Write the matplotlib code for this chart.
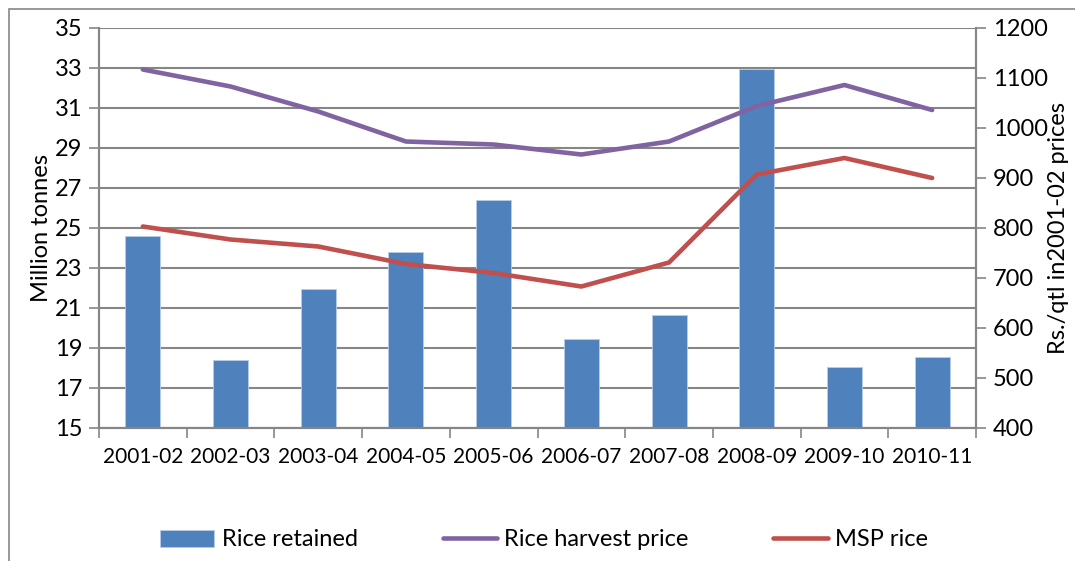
import matplotlib.pyplot as plt
import numpy as np
from matplotlib.patches import Rectangle

# data
years = ['2001-02', '2002-03', '2003-04', '2004-05', '2005-06',
         '2006-07', '2007-08', '2008-09', '2009-10', '2010-11']
rice_retained = [24.6, 18.4, 21.95, 23.8, 26.4, 19.45, 20.65, 32.95, 18.05, 18.55]
harvest_price = [1117, 1083, 1033, 973, 967, 947, 973, 1044, 1086, 1036]
msp_rice = [803, 777, 763, 728, 710, 683, 731, 907, 940, 900]

plt.rcParams['font.family'] = ['Lato', 'DejaVu Sans']
grid_c = '#868686'

fig = plt.figure(figsize=(10.75, 5.61), dpi=100)
ax = fig.add_axes([99/1075, 1-428/561, (976-99)/1075, 400/561])
ax2 = ax.twinx()

x = np.arange(len(years))
ax.bar(x, rice_retained, width=0.4, color='#4F81BD', edgecolor='#B9CDE5',
       linewidth=0.6, label='Rice retained', zorder=2)
ax.set_ylim(15, 35)
ax.set_yticks(np.arange(15, 36, 2))
ax.set_xlim(-0.5, len(years) - 0.5)
ax.set_xticks(x)
ax.set_xticklabels(years)
ax.set_xticks(np.arange(-0.5, len(years), 1), minor=True)
ax.tick_params(axis='x', which='major', length=0, pad=14, labelsize=15)
ax.tick_params(axis='x', which='minor', length=7, color=grid_c, width=1.2, direction='out')
ax.tick_params(axis='y', length=7, color=grid_c, width=1.2, labelsize=17, pad=5)
ax.yaxis.grid(True, color=grid_c, linewidth=1.5, zorder=0)
ax.set_axisbelow(True)
ax.set_ylabel('Million tonnes', fontsize=17, labelpad=2)

l1, = ax2.plot(x, harvest_price, color='#8064A2', linewidth=3.3, label='Rice harvest price',
               solid_capstyle='round', zorder=3)
l2, = ax2.plot(x, msp_rice, color='#C0504D', linewidth=3.3, label='MSP rice',
               solid_capstyle='round', zorder=3)
ax2.set_ylim(400, 1200)
ax2.set_yticks(np.arange(400, 1201, 100))
ax2.tick_params(axis='y', length=7, color=grid_c, width=1.2, labelsize=17, pad=5)
ax2.set_ylabel('Rs./qtl in2001-02 prices', fontsize=17, labelpad=0)

for a in (ax, ax2):
    a.spines['top'].set_visible(False)
    for s in ('left', 'right', 'bottom'):
        a.spines[s].set_color(grid_c)
        a.spines[s].set_linewidth(1.5)

# bars beneath lines
ax.set_zorder(1)
ax2.set_zorder(2)
ax2.patch.set_visible(False)

bars_handle = ax.containers[0]
fig.legend([bars_handle, l1, l2], ['Rice retained', 'Rice harvest price', 'MSP rice'],
           loc='center', bbox_to_anchor=(0.506, 1-540/561), ncol=3, frameon=False,
           fontsize=17, handlelength=2.3, handletextpad=0.3, columnspacing=3.6)

# outer chart frame
fig.patches.append(Rectangle((9/1075, -0.05), 1.1, 1-9/561+0.05, transform=fig.transFigure,
                             fill=False, edgecolor='#868686', linewidth=1.2))

fig.savefig('out.png', dpi=100)
